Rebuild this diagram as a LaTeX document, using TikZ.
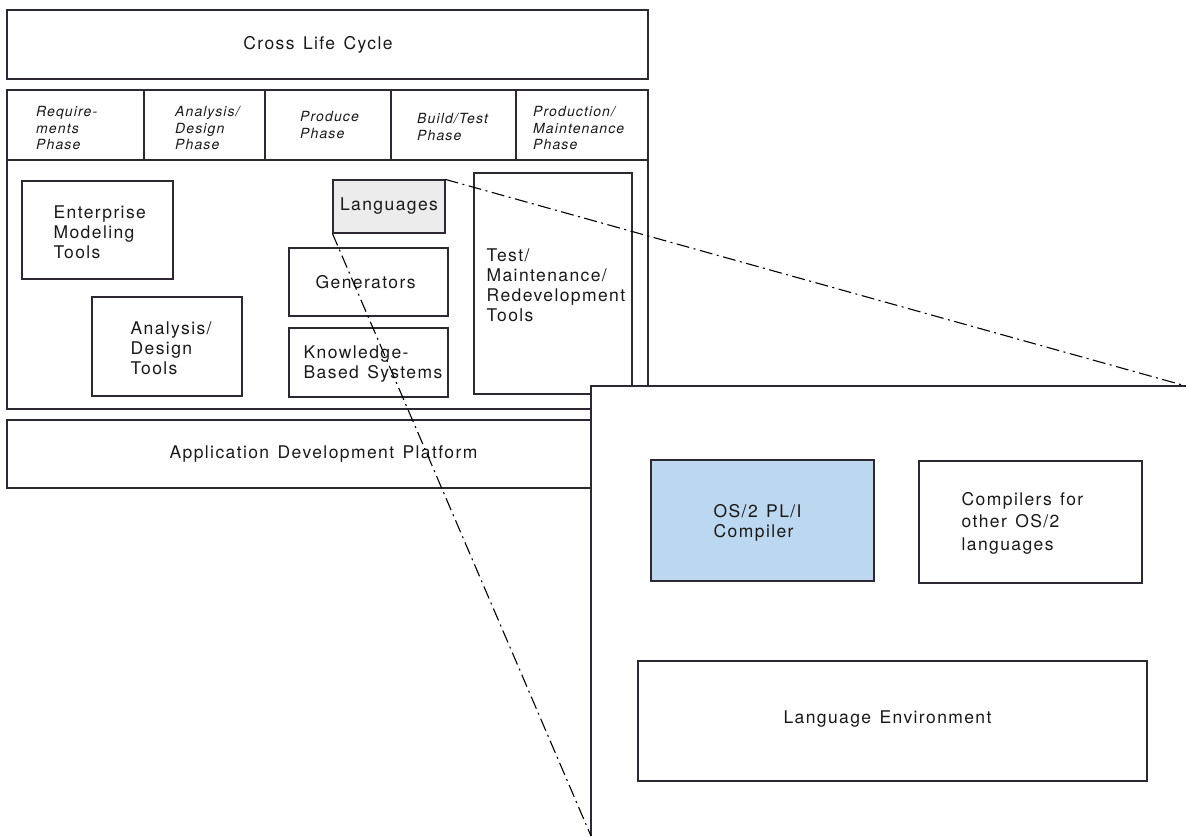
\documentclass[tikz,border=0pt]{standalone}
\usepackage{fontspec}
\setmainfont{TeX Gyre Heros}[LetterSpace=8,WordSpace=1.35]
\definecolor{inkline}{RGB}{45,40,50}
\definecolor{langgray}{RGB}{236,236,236}
\definecolor{compblue}{RGB}{188,216,240}
\begin{document}
\begin{tikzpicture}[x=1pt,y=-1pt,
  every node/.style={inner sep=0pt, text=black!90},
  frame/.style={draw=inkline, line width=1.1pt},
  lbl/.style={font=\fontsize{17.5}{20}\selectfont, align=left},
  tl/.style={lbl, anchor=west},
  phase/.style={font=\fontsize{14}{16.5}\selectfont\itshape, align=left, anchor=west},
  zoomline/.style={draw=black, line width=1.1pt, dash pattern=on 13pt off 4.5pt on 2pt off 4.5pt}]
\useasboundingbox (0,0) rectangle (1186,836);
% top band
\node[frame, minimum width=641pt, minimum height=69pt] (cross) at (327.5,44.5) {};
\node[lbl] (crossT) at (318,44.5) {Cross Life Cycle};
% main frame with phase row
\node[frame, minimum width=641pt, minimum height=319pt] (main) at (327.5,249.5) {};
\draw[frame] (7,160) -- (648,160);
\foreach \xx in {144,265,391,516} \draw[frame] (\xx,90) -- (\xx,160);
\node[phase] (ph1) at (36,128) {Require-\\ments\\Phase};
\node[phase] (ph2) at (175,128) {Analysis/\\Design\\Phase};
\node[phase] (ph3) at (300,125) {Produce\\Phase};
\node[phase] (ph4) at (417,127) {Build/Test\\Phase};
\node[phase] (ph5) at (533,128) {Production/\\Maintenance\\Phase};
% tool boxes
\node[frame, minimum width=151pt, minimum height=98pt] (ent) at (97.5,230) {};
\node[tl] (entT) at ([xshift=32pt,yshift=-2pt]ent.west) {Enterprise\\Modeling\\Tools};
\node[frame, minimum width=150pt, minimum height=99pt] (adt) at (167,346.5) {};
\node[tl] (adtT) at ([xshift=39pt,yshift=-2pt]adt.west) {Analysis/\\Design\\Tools};
\node[frame, lbl, fill=langgray, minimum width=112pt, minimum height=53pt] (lang) at (389,206.5) {Languages};
\node[frame, minimum width=159pt, minimum height=68pt] (gen) at (368.5,282) {};
\node[tl] (genT) at ([xshift=27pt]gen.west) {Generators};
\node[frame, minimum width=159pt, minimum height=69pt] (kbs) at (368.5,362.5) {};
\node[tl] (kbsT) at ([xshift=15pt,yshift=-2pt]kbs.west) {Knowledge-\\Based Systems};
\node[frame, minimum width=158pt, minimum height=221pt] (test) at (553,283.5) {};
\node[tl] (testT) at ([xshift=13pt,yshift=-2pt]test.west) {Test/\\Maintenance/\\Redevelopment\\Tools};
% platform
\node[frame, minimum width=641pt, minimum height=68pt] (plat) at (327.5,454) {};
\node[lbl] (platT) at (323.5,454) {Application Development Platform};
% zoomed panel
\coordinate (ptl) at (591,386);
\coordinate (ptr) at (1186,386);
\coordinate (pbl) at (591,836);
\fill[white] (ptl) rectangle (1190,840);
\draw[frame] (pbl) -- (ptl) -- (ptr);
\node[frame, fill=compblue, minimum width=223pt, minimum height=121pt] (pli) at (762.5,520.5) {};
\node[tl] (pliT) at ([xshift=63pt,yshift=-2pt]pli.west) {OS/2 PL/I\\Compiler};
\node[frame, minimum width=223pt, minimum height=122pt] (oth) at (1030.5,522) {};
\node[tl, font=\fontsize{17.5}{22.5}\selectfont] (othT) at ([xshift=43pt,yshift=-1pt]oth.west) {Compilers for\\other OS/2\\languages};
\node[frame, minimum width=509pt, minimum height=120pt] (le) at (892.5,721) {};
\node[lbl] (leT) at (887.5,719) {Language Environment};
% zoom connectors
\draw[zoomline] (lang.north east) -- (ptr);
\draw[zoomline] (lang.south west) -- (pbl);
\end{tikzpicture}
\end{document}
